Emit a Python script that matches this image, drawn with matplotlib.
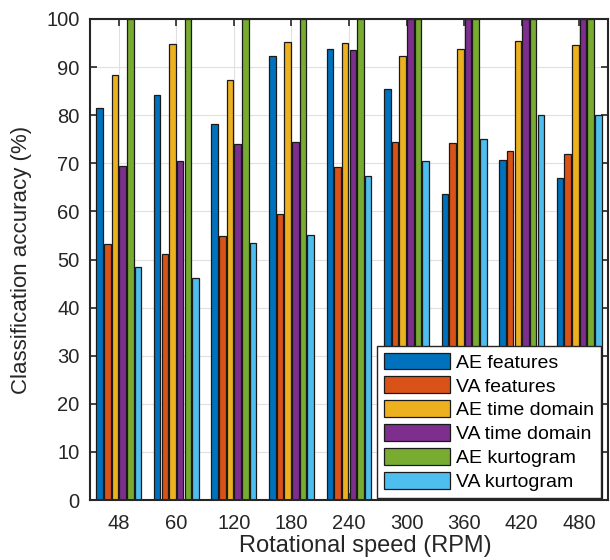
import numpy as np
import matplotlib
matplotlib.use("Agg")
import matplotlib.pyplot as plt

plt.rcParams['font.family'] = ['Liberation Sans', 'DejaVu Sans']

categories = ['48', '60', '120', '180', '240', '300', '360', '420', '480']
series_names = ['AE features', 'VA features', 'AE time domain', 'VA time domain',
                'AE kurtogram', 'VA kurtogram']
ae_features = [81.4, 84.2, 78.2, 92.4, 93.8, 85.4, 63.7, 70.6, 66.9]
va_features = [53.3, 51.1, 54.9, 59.5, 69.3, 74.4, 74.3, 72.6, 71.9]
ae_time = [88.3, 94.7, 87.3, 95.3, 95.1, 92.4, 93.8, 95.4, 94.6]
va_time = [69.4, 70.5, 74.1, 74.5, 93.6, 100, 100, 100, 100]
ae_kurt = [100, 100, 100, 100, 100, 100, 100, 100, 100]
va_kurt = [48.5, 46.2, 53.5, 55.0, 67.4, 70.4, 75.1, 80.0, 80.0]
yticks = list(range(0, 101, 10))

colors = ['#0072BD', '#D95319', '#EDB120', '#7E2F8E', '#77AC30', '#4DBEEE']
data = [ae_features, va_features, ae_time, va_time, ae_kurt, va_kurt]

fig = plt.figure(figsize=(6.1, 5.6), dpi=100)
ax = fig.add_axes([90/610, 60/560, 518/610, 481/560])

x = np.arange(1, len(categories) + 1)
step = 0.1333
width = 0.113
for i, (vals, c, name) in enumerate(zip(data, colors, series_names)):
    ax.bar(x + (i - 2.5) * step, vals, width, color=c, edgecolor='#1a1a1a',
           linewidth=0.9, label=name, zorder=3)

ax.set_xlim(0.5, len(categories) + 0.5)
ax.set_ylim(0, 100)
ax.set_xticks(x)
ax.set_xticklabels(categories)
ax.set_yticks(yticks)
ax.grid(True, color='#e0e0e0', linewidth=0.8, zorder=0)
ax.set_axisbelow(True)
ax.tick_params(direction='in', top=True, right=True, length=5, width=1.2,
               labelsize=14.5, colors='#262626')
ax.tick_params(axis='x', pad=10)
ax.tick_params(axis='y', pad=7.5)
for s in ax.spines.values():
    s.set_linewidth(1.5)
    s.set_color('#262626')
    s.set_zorder(5)

ax.set_ylabel('Classification accuracy (%)', fontsize=16, color='#262626', labelpad=10)
ax.set_xlabel('Rotational speed (RPM)', fontsize=17, color='#262626')
ax.xaxis.set_label_coords(0.531, -0.072)
ax.xaxis.label.set_va('top')

leg = ax.legend(loc='lower left', bbox_to_anchor=(0.554, 0.004), fontsize=14,
                handlelength=3.4, handleheight=0.95, labelspacing=0.25,
                borderaxespad=0, fancybox=False, framealpha=1, edgecolor='#262626',
                borderpad=0.35, handletextpad=0.33)
leg.get_frame().set_linewidth(1.0)
leg.set_zorder(10)

fig.savefig('out.png', dpi=100)
